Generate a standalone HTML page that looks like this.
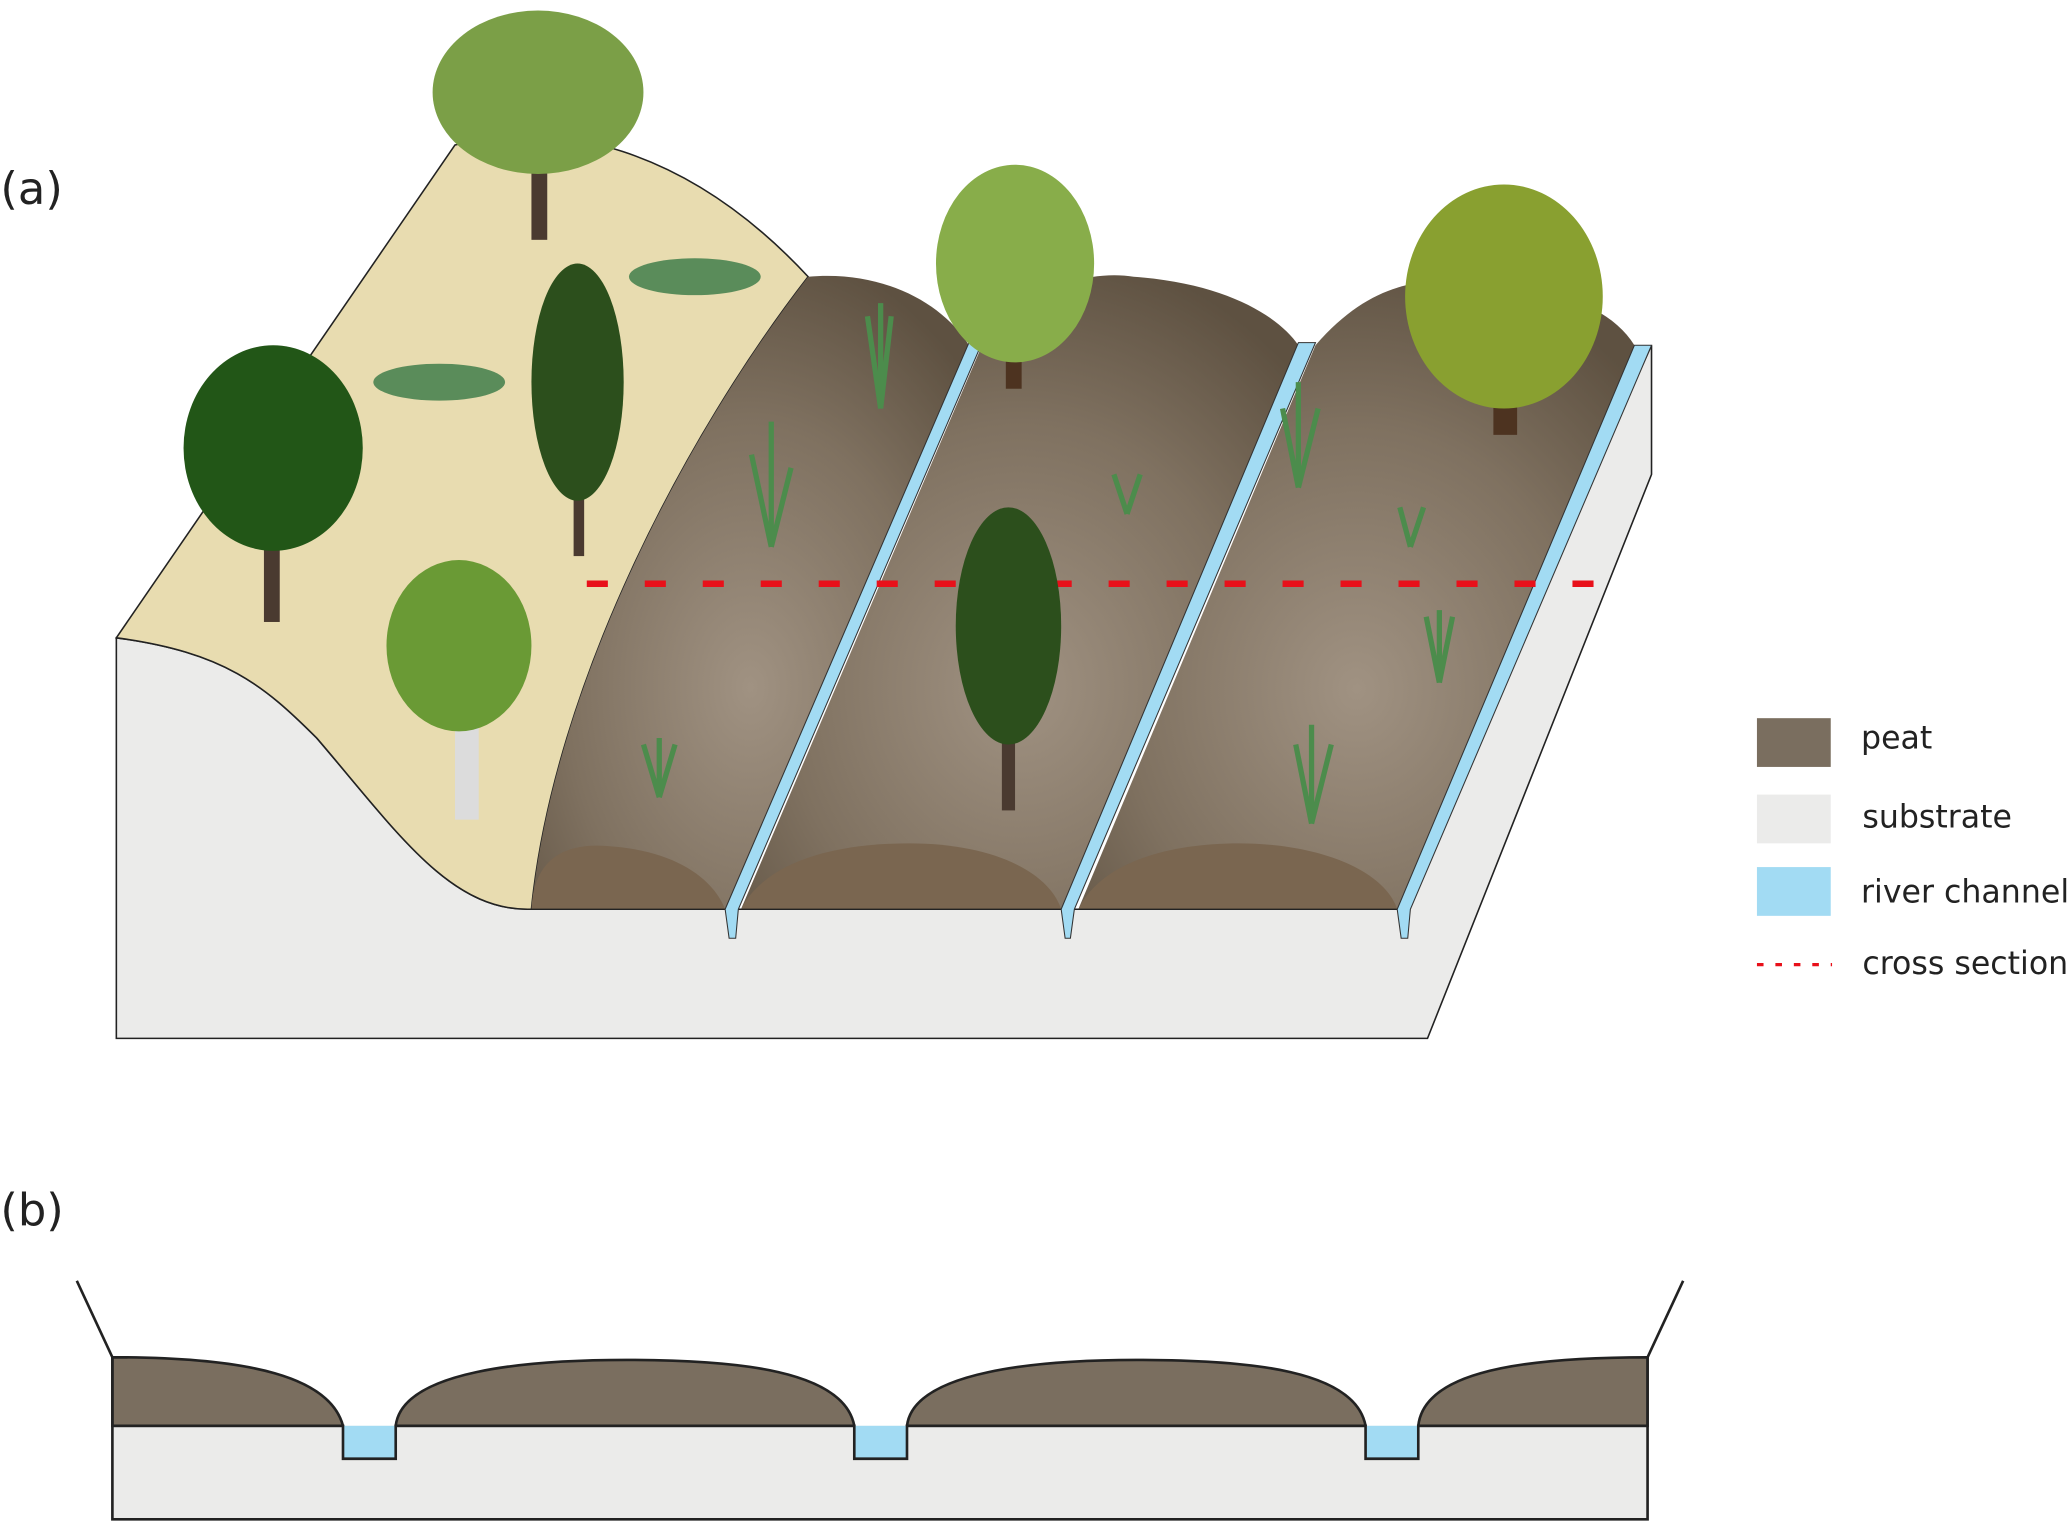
<!DOCTYPE html>
<html><head><meta charset="utf-8"><style>html,body{margin:0;padding:0;background:#fff;}svg{display:block}</style></head>
<body>
<svg width="2067" height="1522" viewBox="0 0 1568 1155" xmlns="http://www.w3.org/2000/svg" font-family="'DejaVu Sans','Liberation Sans',sans-serif">
<defs>
<radialGradient id="pg" cx="0.5" cy="0.65" r="0.7">
<stop offset="0" stop-color="#a09282"/><stop offset="0.6" stop-color="#7f7160"/><stop offset="1" stop-color="#5e5141"/></radialGradient>
</defs>
<text x="0" y="155" font-size="34" fill="#222">(a)</text>
<text x="0" y="930" font-size="34" fill="#222">(b)</text>
<!-- substrate block -->
<path d="M88,484 C170,495 200,520 240,560 C300,630 340,690 400,690 L1060,690 L1253,262 L1253,360 L1083,788 L88,788 Z" fill="#ebebea" stroke="#222" stroke-width="1.2"/>
<!-- sand hill -->
<path d="M88,484 L345,110 C420,90 520,110 613,210 C520,330 420,520 403,690 L400,690 C340,690 300,630 240,560 C200,520 170,495 88,484 Z" fill="#e8dcb0" stroke="#222" stroke-width="1.2"/>
<!-- ridges -->
<path d="M403,690 C420,520 520,330 613,210 C670,205 715,230 735,262 L550,690 Z" fill="url(#pg)"/>
<path d="M562,690 L745,262 C780,215 830,205 860,210 C930,215 970,240 985,262 L805,690 Z" fill="url(#pg)"/>
<path d="M818,690 L998,262 C1030,225 1060,215 1090,213 C1170,213 1220,230 1240,262 L1060,690 Z" fill="url(#pg)"/>
<!-- front mounds -->
<path d="M403,690 C405,650 430,640 460,642 C510,645 540,665 550,690 Z" fill="#7a6650"/>
<path d="M562,690 C580,655 630,640 690,640 C750,640 795,660 805,690 Z" fill="#7a6650"/>
<path d="M818,690 C835,655 885,640 940,640 C1000,640 1050,660 1060,690 Z" fill="#7a6650"/>
<line x1="403" y1="690" x2="1060" y2="690" stroke="#222" stroke-width="1"/>
<!-- channels -->
<path d="M735,260 L745,260 L560,690 L558,712 L553,712 L550,690 Z" fill="#a2dbf3" stroke="#333" stroke-width="0.8"/>
<path d="M985,260 L998,260 L815,690 L812,712 L808,712 L805,690 Z" fill="#a2dbf3" stroke="#333" stroke-width="0.8"/>
<path d="M1240,262 L1253,262 L1070,690 L1068,712 L1063,712 L1060,690 Z" fill="#a2dbf3" stroke="#333" stroke-width="0.8"/>
<!-- red dashed -->
<line x1="445" y1="443" x2="1210" y2="443" stroke="#e8101a" stroke-width="5" stroke-dasharray="16,28"/>
<!-- trees -->
<rect x="403" y="125" width="12" height="57" fill="#4a3a30"/>
<ellipse cx="408" cy="70" rx="80" ry="62" fill="#7b9f47"/>
<rect x="200" y="400" width="12" height="72" fill="#4a3a30"/>
<ellipse cx="207" cy="340" rx="68" ry="78" fill="#225617"/>
<rect x="435" y="360" width="8" height="62" fill="#4a3a30"/>
<ellipse cx="438" cy="290" rx="35" ry="90" fill="#2c4f1c"/>
<rect x="345" y="550" width="18" height="72" fill="#dcdcdc"/>
<ellipse cx="348" cy="490" rx="55" ry="65" fill="#6a9a35"/>
<rect x="763" y="250" width="12" height="45" fill="#4d3320"/>
<ellipse cx="770" cy="200" rx="60" ry="75" fill="#88ad4a"/>
<rect x="1133" y="280" width="18" height="50" fill="#4d3320"/>
<ellipse cx="1141" cy="225" rx="75" ry="85" fill="#89a030"/>
<rect x="760" y="550" width="10" height="65" fill="#4a3a30"/>
<ellipse cx="765" cy="475" rx="40" ry="90" fill="#2c4f1c"/>
<!-- ferns / grasses -->
<g fill="#5a8c5a"><ellipse cx="333" cy="290" rx="50" ry="14"/><ellipse cx="527" cy="210" rx="50" ry="14"/></g>
<g stroke="#4c8c4c" stroke-width="4" fill="none">
<path d="M668,310 l-10,-70 M668,310 l8,-70 M668,310 l0,-80"/>
<path d="M585,415 l-15,-70 M585,415 l15,-60 M585,415 l0,-95"/>
<path d="M500,605 l-12,-40 M500,605 l12,-40 M500,605 l0,-45"/>
<path d="M855,390 l-10,-30 M855,390 l10,-30"/>
<path d="M985,370 l-12,-60 M985,370 l15,-60 M985,370 l0,-80"/>
<path d="M1070,415 l-8,-30 M1070,415 l10,-30"/>
<path d="M1092,518 l-10,-50 M1092,518 l10,-50 M1092,518 l0,-55"/>
<path d="M995,625 l-12,-60 M995,625 l15,-60 M995,625 l0,-75"/>
</g>
<!-- legend -->
<rect x="1333" y="545" width="56" height="37" fill="#7a6e5f"/>
<rect x="1333" y="603" width="56" height="37" fill="#ebebea"/>
<rect x="1333" y="658" width="56" height="37" fill="#a2dbf3"/>
<line x1="1333" y1="732" x2="1390" y2="732" stroke="#e8101a" stroke-width="2.5" stroke-dasharray="5,9"/>
<g font-size="24" fill="#222">
<text x="1412" y="568">peat</text>
<text x="1413" y="628">substrate</text>
<text x="1412" y="685">river channel</text>
<text x="1413" y="739">cross section</text>
</g>
<!-- panel b -->
<line x1="58" y1="972" x2="85" y2="1030" stroke="#222" stroke-width="2"/>
<line x1="1277" y1="972" x2="1250" y2="1030" stroke="#222" stroke-width="2"/>
<rect x="85" y="1082" width="1165" height="71" fill="#ebebea"/>
<path d="M85,1082 L85,1030 C190,1030 250,1045 260,1082 Z" fill="#7a6e5f" stroke="#222" stroke-width="2"/>
<path d="M300,1082 C305,1040 400,1032 475,1032 C560,1032 640,1040 648,1082 Z" fill="#7a6e5f" stroke="#222" stroke-width="2"/>
<path d="M688,1082 C693,1040 790,1032 862,1032 C950,1032 1028,1040 1036,1082 Z" fill="#7a6e5f" stroke="#222" stroke-width="2"/>
<path d="M1076,1082 C1080,1045 1140,1030 1250,1030 L1250,1082 Z" fill="#7a6e5f" stroke="#222" stroke-width="2"/>
<rect x="260" y="1082" width="40" height="25" fill="#a2dbf3"/>
<rect x="648" y="1082" width="40" height="25" fill="#a2dbf3"/>
<rect x="1036" y="1082" width="40" height="25" fill="#a2dbf3"/>
<path d="M85,1030 L85,1153 L1250,1153 L1250,1030 M85,1082 L260,1082 L260,1107 L300,1107 L300,1082 L648,1082 L648,1107 L688,1107 L688,1082 L1036,1082 L1036,1107 L1076,1107 L1076,1082 L1250,1082" fill="none" stroke="#222" stroke-width="2"/>
</svg>
</body></html>
